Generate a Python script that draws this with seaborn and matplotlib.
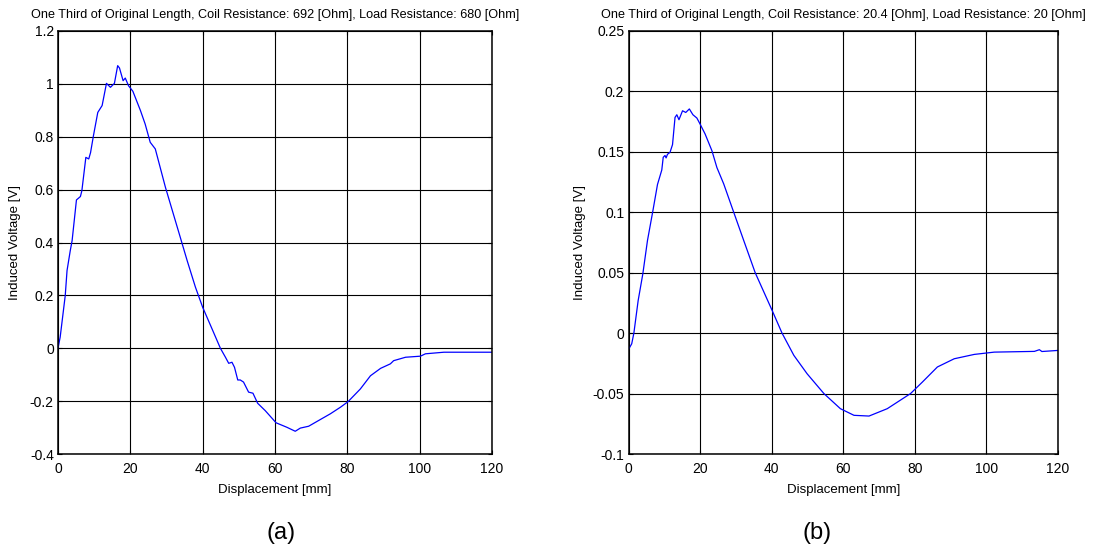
import matplotlib
matplotlib.use("Agg")
import matplotlib.pyplot as plt
import seaborn as sns
import pandas as pd

# Induced voltage vs. displacement, coil at one third of original length
disp_a = [0.0, 0.6, 2.0, 2.5, 3.4, 3.9, 5.1, 5.7, 6.2, 6.6, 7.7, 8.5, 9.0, 9.8,
          11.0, 12.2, 13.4, 14.5, 15.6, 16.5, 17.0, 18.0, 18.6, 19.5, 20.7,
          22.8, 24.1, 25.5, 26.9, 29.7, 33.8, 35.7, 38.0, 40.0, 42.6, 44.9,
          46.3, 47.2, 48.1, 48.8, 49.7, 50.4, 51.3, 52.7, 53.9, 55.2, 57.3,
          60.3, 63.3, 65.6, 67.0, 69.3, 72.1, 75.3, 78.1, 80.2, 83.6, 86.4,
          89.2, 91.9, 92.8, 96.1, 100.2, 101.6, 106.7, 120.0]
volt_a = [0.000, 0.042, 0.199, 0.294, 0.370, 0.407, 0.561, 0.568, 0.574, 0.596,
          0.722, 0.716, 0.740, 0.804, 0.892, 0.918, 1.002, 0.987, 1.002, 1.069,
          1.060, 1.012, 1.022, 0.993, 0.972, 0.899, 0.848, 0.779, 0.754, 0.609,
          0.420, 0.332, 0.231, 0.155, 0.073, 0.000, -0.034, -0.057, -0.053,
          -0.072, -0.120, -0.120, -0.128, -0.166, -0.170, -0.208, -0.236,
          -0.282, -0.299, -0.314, -0.302, -0.295, -0.273, -0.248, -0.223,
          -0.202, -0.154, -0.104, -0.076, -0.059, -0.047, -0.034, -0.030,
          -0.021, -0.015, -0.015]

disp_b = [0.0, 0.9, 1.5, 2.7, 4.0, 5.3, 6.8, 8.1, 9.3, 9.7, 10.2, 10.5, 10.9,
          11.6, 12.3, 13.0, 13.5, 14.1, 15.1, 16.0, 17.0, 18.0, 19.1, 20.0,
          21.4, 23.3, 24.7, 26.6, 29.4, 32.2, 35.4, 40.1, 42.9, 46.2, 49.9,
          54.6, 59.2, 63.0, 67.2, 72.3, 78.8, 82.1, 86.3, 91.0, 96.6, 102.2,
          113.4, 114.8, 115.5, 120.0]
volt_b = [-0.0135, -0.0088, 0.000, 0.027, 0.049, 0.0766, 0.101, 0.123, 0.135,
          0.1455, 0.147, 0.145, 0.148, 0.1496, 0.156, 0.1785, 0.1807, 0.1766,
          0.184, 0.1826, 0.1855, 0.1807, 0.178, 0.173, 0.1648, 0.151, 0.137,
          0.1235, 0.100, 0.0766, 0.050, 0.019, 0.000, -0.0184, -0.0336,
          -0.050, -0.0625, -0.068, -0.0686, -0.0625, -0.050, -0.0405, -0.028,
          -0.0212, -0.0176, -0.0157, -0.0151, -0.0137, -0.0152, -0.0143]

x_ticks = [0, 20, 40, 60, 80, 100, 120]
y_ticks_a = [-0.4, -0.2, 0, 0.2, 0.4, 0.6, 0.8, 1.0, 1.2]
y_labels_a = ["-0.4", "-0.2", "0", "0.2", "0.4", "0.6", "0.8", "1", "1.2"]
y_ticks_b = [-0.1, -0.05, 0, 0.05, 0.1, 0.15, 0.2, 0.25]
y_labels_b = ["-0.1", "-0.05", "0", "0.05", "0.1", "0.15", "0.2", "0.25"]

title_a = "One Third of Original Length, Coil Resistance: 692 [Ohm], Load Resistance: 680 [Ohm]"
title_b = "One Third of Original Length, Coil Resistance: 20.4 [Ohm], Load Resistance: 20 [Ohm]"
x_label = "Displacement [mm]"
y_label = "Induced Voltage [V]"
captions = ["(a)", "(b)"]

sns.set_theme(style="white")
plt.rcParams["font.family"] = ["Liberation Sans", "DejaVu Sans"]

fig = plt.figure(figsize=(10.95, 5.5), dpi=100)
ax_a = fig.add_axes([58 / 1095, 96 / 550, 434 / 1095, 423 / 550])
ax_b = fig.add_axes([628.5 / 1095, 96 / 550, 429.5 / 1095, 423 / 550])

panels = [
    (ax_a, disp_a, volt_a, (-0.4, 1.2), y_ticks_a, y_labels_a, title_a, -0.086),
    (ax_b, disp_b, volt_b, (-0.1, 0.25), y_ticks_b, y_labels_b, title_b, -0.098),
]

tick_fs = 10
label_fs = 9.5
title_fs = 9.1
for ax, xs, ys, ylim, yt, yl, title, ylab_x in panels:
    df = pd.DataFrame({"disp": xs, "volt": ys})
    sns.lineplot(data=df, x="disp", y="volt", ax=ax, color="#0000ff",
                 linewidth=0.9, sort=False)
    ax.set_xlim(0, 120)
    ax.set_ylim(*ylim)
    ax.set_xticks(x_ticks)
    ax.set_xticklabels([str(t) for t in x_ticks], fontsize=tick_fs)
    ax.set_yticks(yt)
    ax.set_yticklabels(yl, fontsize=tick_fs)
    ax.grid(True, color="black", linewidth=0.8, linestyle="-")
    ax.tick_params(direction="in", length=3, width=0.8, top=True, right=True,
                   bottom=True, left=True, pad=3, colors="black")
    ax.tick_params(axis="x", pad=5.5)
    for sp in ax.spines.values():
        sp.set_color("black")
        sp.set_linewidth(1.1)
    ax.set_title(title, fontsize=title_fs, pad=9.5, color="black")
    ax.set_xlabel(x_label, fontsize=label_fs, color="black")
    ax.set_ylabel(y_label, fontsize=label_fs, color="black")
    ax.xaxis.set_label_coords(0.5, -0.07)
    ax.yaxis.set_label_coords(ylab_x, 0.5)

fig.text(281 / 1095, 1 - 533 / 550, captions[0], ha="center", va="center",
         fontsize=17, color="black")
fig.text(817 / 1095, 1 - 533 / 550, captions[1], ha="center", va="center",
         fontsize=17, color="black")

fig.savefig("out.png", dpi=100, facecolor="white")
